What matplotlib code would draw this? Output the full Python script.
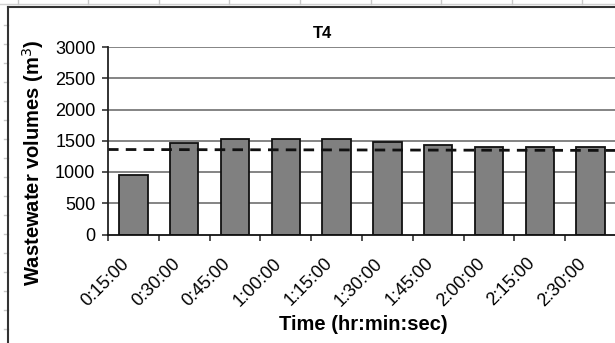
import matplotlib
matplotlib.use("Agg")
import matplotlib.pyplot as plt
from matplotlib.lines import Line2D
import matplotlib.transforms as mtransforms
import numpy as np

plt.rcParams['font.family'] = ['Liberation Sans', 'DejaVu Sans']

# Data
time_labels = ["0:15:00", "0:30:00", "0:45:00", "1:00:00", "1:15:00",
               "1:30:00", "1:45:00", "2:00:00", "2:15:00", "2:30:00"]
volumes = [950, 1460, 1530, 1530, 1530, 1485, 1425, 1395, 1395, 1395]
reference_line = [1360, 1345]          # dashed line at left and right edge
y_ticks = [0, 500, 1000, 1500, 2000, 2500, 3000]

W, H = 615, 343
fig = plt.figure(figsize=(W / 100, H / 100), dpi=100)

# Plot area in pixel coordinates
left_px, right_px, top_px, bottom_px = 108, 616, 47, 234.5
ax = fig.add_axes([left_px / W, 1 - bottom_px / H,
                   (right_px - left_px) / W, (bottom_px - top_px) / H])

x = np.arange(len(volumes))
ax.set_xlim(-0.5, len(volumes) - 0.5)
ax.set_ylim(0, 3000)

# Gridlines
for yv in y_ticks[1:]:
    ax.axhline(yv, color="#707070", lw=1.2, zorder=1)

ax.bar(x, volumes, width=0.56, color="#808080", edgecolor="#111111",
       linewidth=1.3, zorder=2)

ax.plot([-0.5, len(volumes) - 0.5], reference_line, color="#111111", lw=2.0,
        dashes=(3.8, 2.6), zorder=3)

# Axes styling
for s in ("top", "right"):
    ax.spines[s].set_visible(False)
ax.spines["left"].set_color("#222222")
ax.spines["left"].set_linewidth(1.3)
ax.spines["bottom"].set_color("#111111")
ax.spines["bottom"].set_linewidth(1.3)
ax.spines["left"].set_zorder(4)
ax.spines["bottom"].set_zorder(4)

ax.set_yticks(y_ticks)
ax.set_yticklabels([str(v) for v in y_ticks], fontsize=13)
ax.tick_params(axis="y", direction="out", length=4.5, width=1.1,
               color="#222222", pad=4.5)

ax.set_xticks(x)
ax.set_xticklabels(time_labels, fontsize=13, rotation=45, ha="right",
                   va="center", rotation_mode="anchor")
ax.set_xticks(np.arange(len(volumes) + 1) - 0.5, minor=True)
ax.tick_params(axis="x", which="major", length=0, pad=19)
ax.tick_params(axis="x", which="minor", direction="out", length=4.5,
               width=1.1, color="#222222")
shift = mtransforms.ScaledTranslation(-5 / 72, 0, fig.dpi_scale_trans)
for lab in ax.get_xticklabels():
    lab.set_transform(lab.get_transform() + shift)

# Titles
fig.text(323 / W, 1 - 34 / H, "T4", fontsize=12, fontweight="bold",
         ha="center", va="center")
fig.text(363 / W, 1 - 325 / H, "Time (hr:min:sec)", fontsize=14.5,
         fontweight="bold", ha="center", va="center")
fig.text(33 / W, 1 - 163 / H, "Wastewater volumes (m$^3$)", fontsize=14.5,
         fontweight="bold", ha="center", va="center", rotation=90)

# Surrounding sheet frame
def px_line(xs, ys, **kw):
    fig.add_artist(Line2D([v / W for v in xs], [1 - v / H for v in ys],
                          transform=fig.transFigure, **kw))

px_line([0, W], [3.5, 3.5], color="#d0d0d0", lw=1)
for xv in [17.6, 88, 159, 229, 300, 370.6, 441, 512, 582]:
    px_line([xv, xv], [0, 4], color="#c8c8c8", lw=1)
for yv in np.arange(25, H, 19):
    px_line([4, 8], [yv, yv], color="#c8c8c8", lw=1)
px_line([8, W], [6.5, 6.5], color="#333333", lw=1.5)
px_line([8.3, 8.3], [6.5, H], color="#333333", lw=1.5)

fig.savefig("out.png", dpi=100)
